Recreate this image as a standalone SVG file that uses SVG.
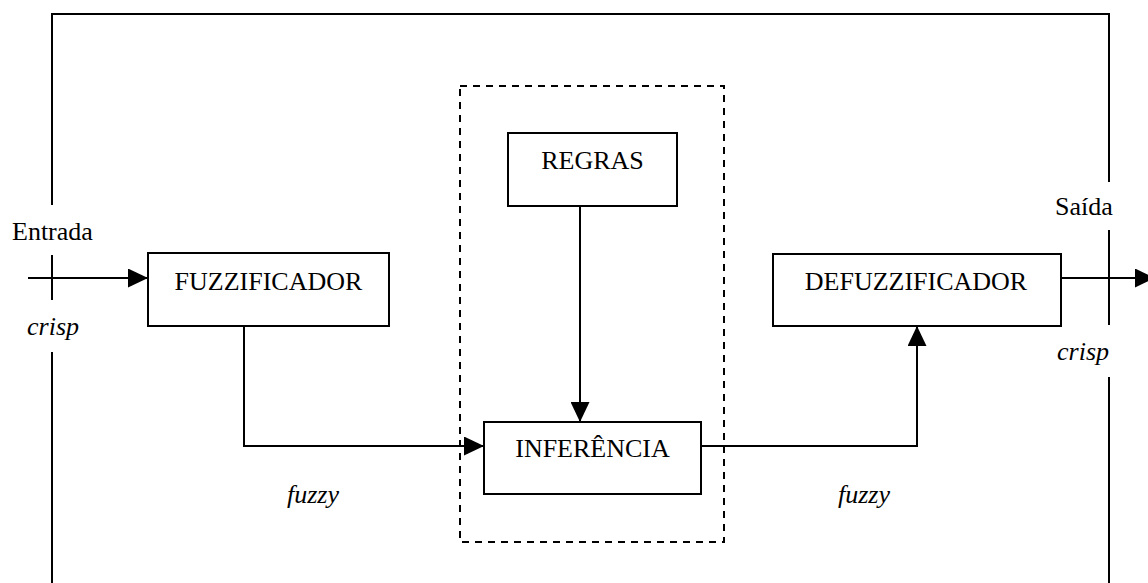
<svg xmlns="http://www.w3.org/2000/svg" width="1148" height="583" viewBox="0 0 1148 583">
  <style>
    .box { fill: #fff; stroke: #000; stroke-width: 2; }
    .line { fill: none; stroke: #000; stroke-width: 2; }
    .dash { fill: none; stroke: #000; stroke-width: 2; stroke-dasharray: 7 6; }
    .lbl { font-family: "Liberation Serif", "Times New Roman", serif; font-size: 26px; fill: #000; }
    .mid { text-anchor: middle; }
    .it { font-style: italic; }
  </style>
  <defs>
    <marker id="arr" markerUnits="userSpaceOnUse" markerWidth="20" markerHeight="19" refX="20" refY="9.5" orient="auto">
      <path d="M0,0 L20,9.5 L0,19 z" fill="#000"/>
    </marker>
  </defs>
  <rect width="1148" height="583" fill="#fff"/>

  <g id="frame">
    <path class="line" d="M52,205 V14 H1109 V182"/>
    <path class="line" d="M52,255 V300 M52,352 V583"/>
    <path class="line" d="M1109,230 V325 M1109,377 V583"/>
    <rect id="inference-group" class="dash" x="460" y="86" width="264" height="456"/>
  </g>

  <g id="connectors">
    <path class="line" d="M28,278 H148" marker-end="url(#arr)"/>
    <path class="line" d="M244,326 V446 H484" marker-end="url(#arr)"/>
    <path class="line" d="M580,206 V422" marker-end="url(#arr)"/>
    <path class="line" d="M701,446 H917 V326" marker-end="url(#arr)"/>
    <path class="line" d="M1061,278 H1155" marker-end="url(#arr)"/>
  </g>

  <g id="fuzzificador">
    <rect class="box" x="148" y="253" width="241" height="73"/>
    <text class="lbl mid" x="268.5" y="290">FUZZIFICADOR</text>
  </g>
  <g id="regras">
    <rect class="box" x="508" y="133" width="169" height="73"/>
    <text class="lbl mid" x="592.5" y="169">REGRAS</text>
  </g>
  <g id="inferencia">
    <rect class="box" x="484" y="422" width="217" height="72"/>
    <text class="lbl mid" x="592.5" y="457">INFERÊNCIA</text>
  </g>
  <g id="defuzzificador">
    <rect class="box" x="773" y="254" width="288" height="72"/>
    <text class="lbl mid" x="916" y="290">DEFUZZIFICADOR</text>
  </g>

  <g id="labels">
    <text class="lbl" x="12" y="240">Entrada</text>
    <text class="lbl it" x="27" y="335">crisp</text>
    <text class="lbl" x="1055" y="215">Saída</text>
    <text class="lbl it" x="1057" y="360">crisp</text>
    <text class="lbl it" x="287" y="503">fuzzy</text>
    <text class="lbl it" x="838" y="503">fuzzy</text>
  </g>
</svg>
